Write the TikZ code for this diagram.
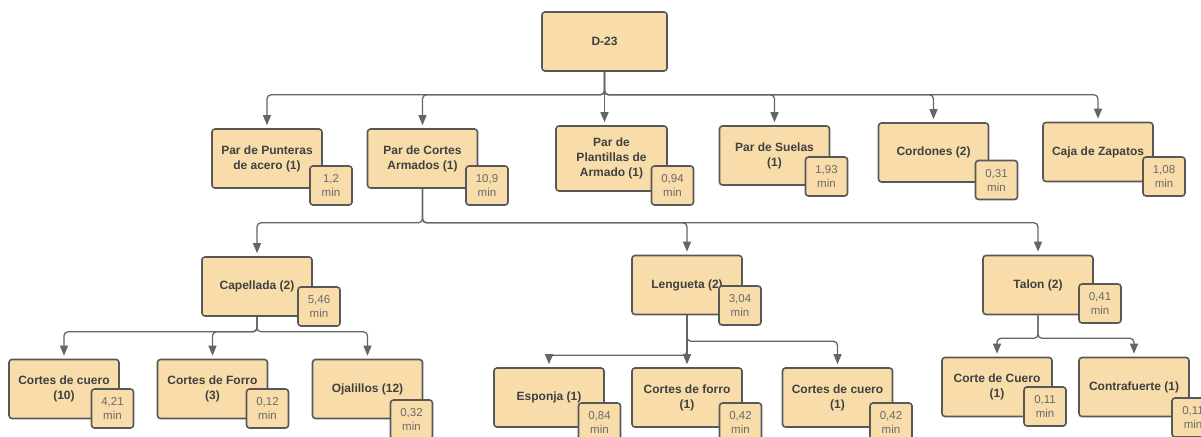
\documentclass[tikz,border=0pt]{standalone}
\usepackage{fontspec}
\setmainfont{Liberation Sans}
\usepackage{tikz}
\usetikzlibrary{arrows.meta}
\definecolor{boxfill}{HTML}{F8DDAB}
\definecolor{boxline}{HTML}{585858}
\definecolor{linkcol}{HTML}{656565}
\definecolor{textdark}{HTML}{404040}
\definecolor{textlight}{HTML}{6A6A6A}

\begin{document}
\begin{tikzpicture}
    [x=1pt, y=-1pt,
     item/.style={draw=boxline, fill=boxfill, line width=1.6pt, rounded corners=3pt,
       minimum width=110pt, minimum height=59pt, inner sep=2pt, align=center,
       text=textdark, font=\fontsize{12}{15}\selectfont\bfseries},
     tbox/.style={draw=boxline, fill=boxfill, line width=1.6pt, rounded corners=3pt,
       minimum width=42pt, minimum height=39pt, inner sep=1pt, align=center,
       text=textlight, font=\fontsize{11.5}{14}\selectfont},
     link/.style={draw=linkcol, line width=1.3pt, rounded corners=4pt,
       -{Triangle[length=10pt, width=8pt]}, shorten >=3pt}]
    \useasboundingbox (0,0) rectangle (1201,436);

    % top
    \node (d23) [item, minimum width=125pt] at (604.5,41.5) {D-23};

    % second row
    \node (punteras) [item] at (267,158.5) {Par de Punteras\\de acero (1)};
    \node (tpunteras) [tbox] at (331,185.5) {1,2\\min};
    \node (armados) [item] at (422.5,158.5) {Par de Cortes\\Armados (1)};
    \node (tarmados) [tbox] at (487,185.5) {10,9\\min};
    \node (plantillas) [item, minimum width=111pt, minimum height=65pt] at (611.5,158.5) {Par de\\Plantillas de\\Armado (1)};
    \node (tplantillas) [tbox] at (672.5,185.5) {0,94\\min};
    \node (suelas) [item] at (774.5,155.5) {Par de Suelas\\(1)};
    \node (tsuelas) [tbox] at (826.5,176.5) {1,93\\min};
    \node (cordones) [item] at (933.5,152.5) {Cordones (2)};
    \node (tcordones) [tbox] at (996.5,180) {0,31\\min};
    \node (caja) [item] at (1098,152) {Caja de Zapatos};
    \node (tcaja) [tbox] at (1164,176.5) {1,08\\min};

    % third row
    \node (capellada) [item] at (257,286.5) {Capellada (2)};
    \node (tcapellada) [tbox] at (319,306.5) {5,46\\min};
    \node (lengueta) [item] at (687,285) {Lengueta (2)};
    \node (tlengueta) [tbox] at (740,305.5) {3,04\\min};
    \node (talon) [item] at (1038,285) {Talon (2)};
    \node (ttalon) [tbox] at (1100,303.5) {0,41\\min};

    % bottom row
    \node (cuerodiez) [item] at (64,389) {Cortes de cuero\\(10)};
    \node (tcuerodiez) [tbox] at (112.5,408.5) {4,21\\min};
    \node (forrotres) [item] at (212.5,389) {Cortes de Forro\\(3)};
    \node (tforrotres) [tbox] at (267.5,408.5) {0,12\\min};
    \node (ojalillos) [item] at (367.5,389) {Ojalillos (12)};
    \node (tojalillos) [tbox] at (411.5,419.5) {0,32\\min};
    \node (esponja) [item] at (549,397.5) {Esponja (1)};
    \node (tesponja) [tbox] at (599.5,422.5) {0,84\\min};
    \node (forrouno) [item] at (687,397.5) {Cortes de forro\\(1)};
    \node (tforrouno) [tbox] at (740.5,422.5) {0,42\\min};
    \node (cuerouno) [item] at (837.5,397.5) {Cortes de cuero\\(1)};
    \node (tcuerouno) [tbox] at (891,422.5) {0,42\\min};
    \node (cortecuero) [item] at (997,387) {Corte de Cuero\\(1)};
    \node (tcortecuero) [tbox] at (1045,406.5) {0,11\\min};
    \node (contrafuerte) [item] at (1134,387) {Contrafuerte (1)};
    \node (tcontrafuerte) [tbox] at (1193,417.5) {0,11\\min};

    \draw[link] (d23.south) -- ++(0,23) -| (punteras.north);
    \draw[link] (d23.south) -- ++(0,23) -| (armados.north);
    \draw[link] (d23.south) -- (d23.south |- plantillas.north);
    \draw[link] (d23.south) -- ++(0,23) -| (suelas.north);
    \draw[link] (d23.south) -- ++(0,23) -| (cordones.north);
    \draw[link] (d23.south) -- ++(0,23) -| (caja.north);

    \draw[link] (armados.south) -- ++(0,34) -| (capellada.north);
    \draw[link] (armados.south) -- ++(0,34) -| (lengueta.north);
    \draw[link] (armados.south) -- ++(0,34) -| (talon.north);

    \draw[link] (capellada.south) -- ++(0,15) -| (cuerodiez.north);
    \draw[link] (capellada.south) -- ++(0,15) -| (forrotres.north);
    \draw[link] (capellada.south) -- ++(0,15) -| (ojalillos.north);

    \draw[link] (lengueta.south) -- ++(0,40) -| (esponja.north);
    \draw[link] (lengueta.south) -- (forrouno.north);
    \draw[link] (lengueta.south) -- ++(0,26) -| (cuerouno.north);

    \draw[link] (talon.south) -- ++(0,23) -| (cortecuero.north);
    \draw[link] (talon.south) -- ++(0,23) -| (contrafuerte.north);
\end{tikzpicture}
\end{document}
